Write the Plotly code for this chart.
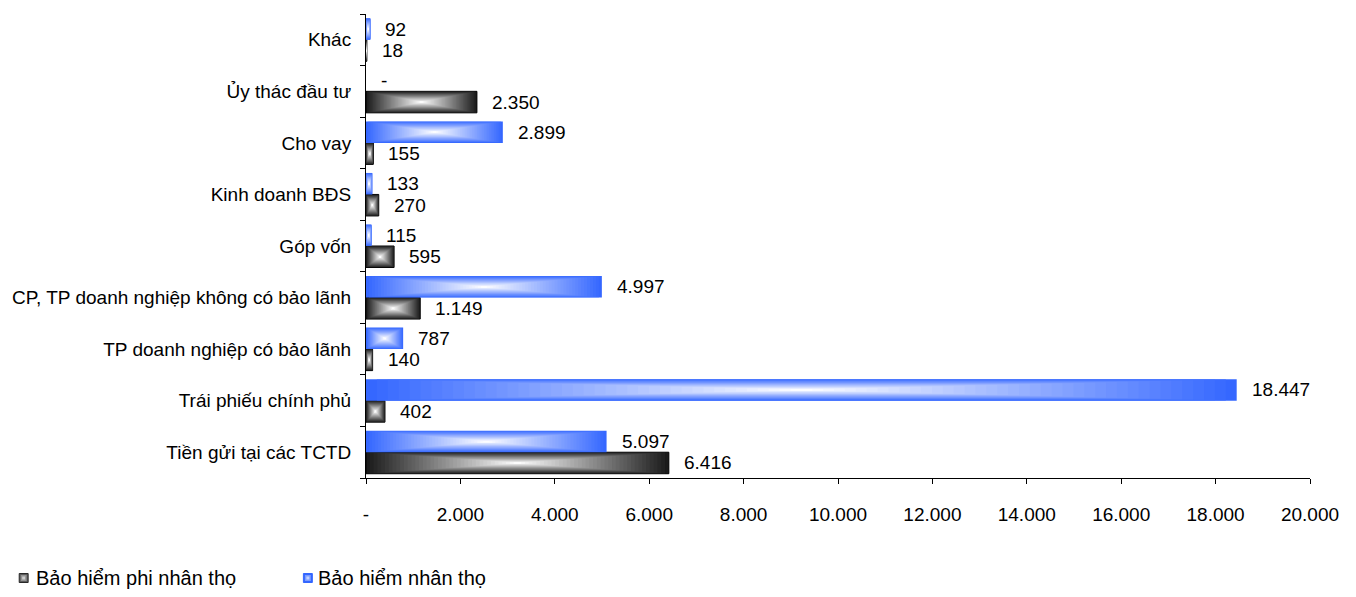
import plotly.graph_objects as go

categories = ["Tiền gửi tại các TCTD", "Trái phiếu chính phủ", "TP doanh nghiệp có bảo lãnh",
              "CP, TP doanh nghiệp không có bảo lãnh", "Góp vốn", "Kinh doanh BĐS",
              "Cho vay", "Ủy thác đầu tư", "Khác"]
life = [5097, 18447, 787, 4997, 115, 133, 2899, 0, 92]          # Bảo hiểm nhân thọ
nonlife = [6416, 402, 140, 1149, 595, 270, 155, 2350, 18]       # Bảo hiểm phi nhân thọ
series_names = ["Bảo hiểm phi nhân thọ", "Bảo hiểm nhân thọ"]
x_tick_vals = [0, 2000, 4000, 6000, 8000, 10000, 12000, 14000, 16000, 18000, 20000]
x_tick_text = ["-", "2.000", "4.000", "6.000", "8.000", "10.000", "12.000", "14.000", "16.000", "18.000", "20.000"]

FONT = "Liberation Sans, Arial, sans-serif"
W = 0.417          # bar thickness in category units
N = 40             # gradient layers
L, R, T, B = 360, 46, 14, 119
PW, PH = 1356 - L - R, 597 - T - B


def fmt(v):
    return "-" if v == 0 else f"{v:,}".replace(",", ".")


def mix(c, t):
    r, g, b = c
    return "rgb(%d,%d,%d)" % (r + (255 - r) * t, g + (255 - g) * t, b + (255 - b) * t)


def px(x):
    return (x - L) / PW


def py(y):
    return (597 - B - y) / PH


fig = go.Figure()
series = [
    (series_names[0], nonlife, (25, 25, 25), -W / 2, True),
    (series_names[1], life, (51, 102, 255), W / 2, False),
]
for name, vals, edge, center, outline in series:
    for k in range(N):
        s = 1 - k / N
        t = (k + 0.5) / N
        fig.add_trace(go.Bar(
            y=categories,
            x=[v * s for v in vals],
            base=[v * (1 - s) / 2 for v in vals],
            orientation="h",
            width=W * s,
            offset=center - W * s / 2,
            marker=dict(color=mix(edge, t),
                        line=dict(width=1 if (outline and k == 0) else 0, color="black")),
            name=name,
            legendgroup=name,
            showlegend=False,
            hoverinfo="skip",
        ))

annotations = []
for name, vals, edge, center, outline in series:
    for i, v in enumerate(vals):
        annotations.append(dict(
            x=v, y=i + center, xref="x", yref="y", text=fmt(v),
            showarrow=False, xanchor="left", yanchor="middle", xshift=13,
            font=dict(family=FONT, size=19, color="black"),
        ))

# custom legend (marker squares + text)
shapes = []
legend_items = [(series_names[0], (90, 90, 90), (40, 40, 40), 11, 26),
                (series_names[1], (51, 102, 255), (51, 102, 255), 297, 310)]
ly = 578
for name, fill, border, x0, tx in legend_items:
    size = 9
    for j, f in enumerate([0.0, 0.35, 0.7]):
        inset = j * 1.5
        shapes.append(dict(type="rect", xref="paper", yref="paper",
                           x0=px(x0 + inset), x1=px(x0 + size - inset),
                           y0=py(ly + size / 2 - inset), y1=py(ly - size / 2 + inset),
                           fillcolor=mix(fill, f),
                           line=dict(width=1 if j == 0 else 0, color=mix(border, 0))))
    annotations.append(dict(x=px(tx), y=py(ly), xref="paper", yref="paper",
                            text=name, showarrow=False, xanchor="left", yanchor="middle",
                            font=dict(family=FONT, size=20, color="black")))

fig.update_layout(
    width=1356, height=597,
    margin=dict(l=L, r=R, t=T, b=B),
    paper_bgcolor="white", plot_bgcolor="white",
    barmode="overlay",
    font=dict(family=FONT, size=19, color="black"),
    annotations=annotations,
    shapes=shapes,
    showlegend=False,
)
fig.update_xaxes(range=[0, 20000], tickvals=x_tick_vals, ticktext=x_tick_text,
                 showgrid=False, zeroline=False, showline=True, linecolor="black", linewidth=1,
                 ticks="outside", ticklen=5, tickcolor="black", ticklabelstandoff=14)
fig.update_yaxes(type="category", categoryorder="array", categoryarray=categories,
                 range=[-0.5, 8.5], showgrid=False, zeroline=False, showline=True,
                 linecolor="black", linewidth=1, ticks="outside", ticklen=5, tickcolor="black",
                 tickson="boundaries", ticklabelstandoff=10)

fig.write_html("out.html")
